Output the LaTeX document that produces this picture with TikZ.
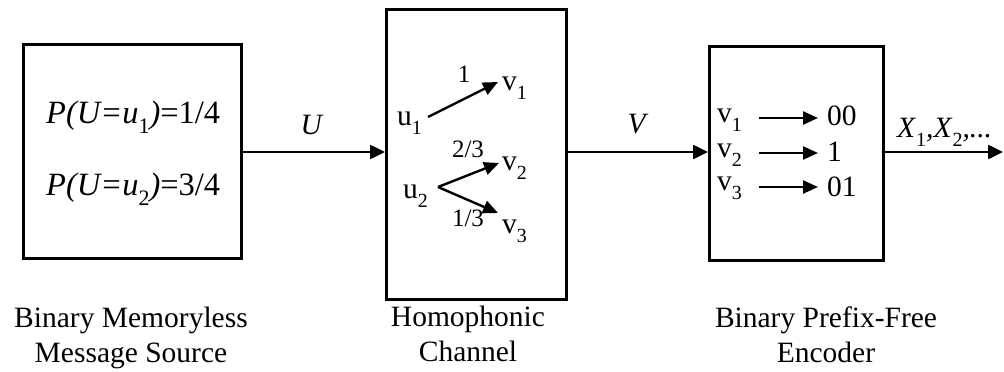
\documentclass[tikz,border=0pt]{standalone}
\usepackage{fontspec}
\setmainfont{Liberation Serif}
\usetikzlibrary{arrows.meta}
\newcommand\lo[1]{\raisebox{-9pt}{\fontsize{20}{20}\selectfont #1}}
\newcommand\loP[1]{\raisebox{-10pt}{\fontsize{22}{22}\selectfont #1}}
\begin{document}
\begin{tikzpicture}[x=1pt,y=-1pt,
  font=\fontsize{29.5}{35}\selectfont,
  box/.style={draw, line width=2.8pt, inner sep=0pt, anchor=north west},
  conn/.style={line width=2.5pt, -{Triangle[length=15pt,width=14pt]}},
  small/.style={line width=2.4pt, -{Triangle[length=15pt,width=13pt]}},
  lbl/.style={inner sep=0pt, anchor=base},
  lblw/.style={inner sep=0pt, anchor=base west},
  wt/.style={inner sep=0pt, anchor=base, font=\fontsize{25}{25}\selectfont},
  big/.style={font=\fontsize{32.5}{35}\selectfont}]
\useasboundingbox (0,0) rectangle (1004,372);
% boxes
\node[box, minimum width=218pt, minimum height=214pt] (src) at (22,43) {};
\node[box, minimum width=180pt, minimum height=290pt] (chan) at (385,8) {};
\node[box, minimum width=174pt, minimum height=214pt] (enc) at (708,45) {};
% source text
\node[lblw, big] (p1) at (46,123) {\textit{P(U=u}\loP{1}\textit{)}=1/4};
\node[lblw, big] (p2) at (46,195) {\textit{P(U=u}\loP{2}\textit{)}=3/4};
% connectors
\coordinate (y0) at (0,152);
\coordinate (out) at (1003,152);
\draw[conn] (src.east |- y0) -- (chan.west |- y0);
\draw[conn] (chan.east |- y0) -- (enc.west |- y0);
\draw[conn] (enc.east |- y0) -- (out);
\node[lbl] (U) at (312,134) {\textit{U}};
\node[lbl] (V) at (638,133) {\textit{V}};
\node[lblw] (X) at (897,137) {\textit{X}\lo{1}\textit{,X}\lo{2}\textit{,...}};
% channel contents
\node[lblw] (u1) at (397,125) {u\lo{1}};
\node[lblw] (u2) at (403,198) {u\lo{2}};
\node[lblw] (v1) at (502,90) {v\lo{1}};
\node[lblw] (v2) at (502,170) {v\lo{2}};
\node[lblw] (v3) at (502,233) {v\lo{3}};
\node[wt] (w1) at (464,82) {1};
\node[wt] (w2) at (468,157) {2/3};
\node[wt] (w3) at (468,226) {1/3};
\coordinate (s1) at (428,117);
\coordinate (t1) at (498,82);
\coordinate (s2) at (438,187);
\coordinate (t2) at (499,163);
\coordinate (t3) at (498,213);
\draw[small] (s1) -- (t1);
\draw[small] (s2) -- (t2);
\draw[small] (s2) -- (t3);
% encoder contents
\node[lblw] (e1) at (717,122) {v\lo{1}};
\node[lblw] (e2) at (717,157) {v\lo{2}};
\node[lblw] (e3) at (717,190) {v\lo{3}};
\node[lblw] (c1) at (827,125) {00};
\node[lblw] (c2) at (827,161) {1};
\node[lblw] (c3) at (827,196) {01};
\coordinate (a1) at (759,118);
\coordinate (a2) at (759,153);
\coordinate (a3) at (759,187);
\draw[small] (a1) -- ([xshift=-9pt]a1 -| c1.west);
\draw[small] (a2) -- ([xshift=-9pt]a2 -| c2.west);
\draw[small] (a3) -- ([xshift=-9pt]a3 -| c3.west);
% captions
\node[lbl, align=center] (cap1) at (131,362) {Binary Memoryless\\Message Source};
\node[lbl, align=center] (cap2) at (468,361) {Homophonic\\Channel};
\node[lbl, align=center] (cap3) at (826,362) {Binary Prefix-Free\\Encoder};
\end{tikzpicture}
\end{document}
